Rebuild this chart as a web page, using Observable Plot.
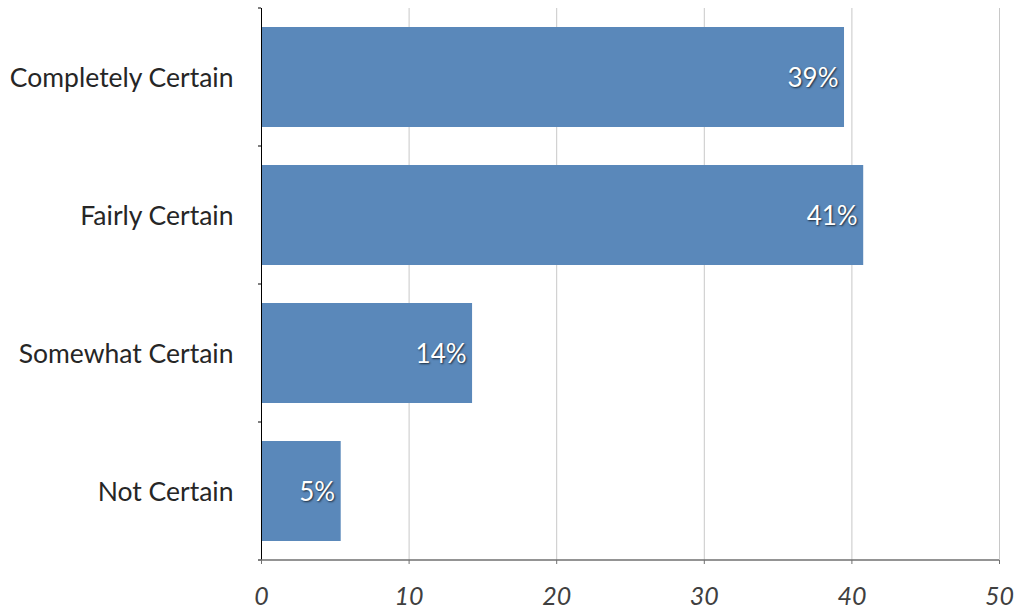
<!DOCTYPE html>
<html>
<head>
<meta charset="utf-8">
<script src="https://cdn.jsdelivr.net/npm/d3@7"></script>
<script src="https://cdn.jsdelivr.net/npm/@observablehq/plot@0.6"></script>
<style>
  html, body { margin: 0; padding: 0; background: #fff; }
  #chart svg { display: block; }
  g[aria-label="text"] text { text-shadow: 1px 1.5px 2px rgba(0,0,0,0.7); }
</style>
</head>
<body>
<div id="chart"></div>
<script>
const categories = ["Completely Certain", "Fairly Certain", "Somewhat Certain", "Not Certain"];
const values = [39.5, 40.8, 14.3, 5.4];
const labels = ["39%", "41%", "14%", "5%"];
const xTicks = [0, 10, 20, 30, 40, 50];

const data = categories.map((c, i) => ({cat: c, value: values[i], label: labels[i]}));

const W = 1017, H = 611;
const plot = Plot.plot({
  width: W,
  height: H,
  marginLeft: 261,
  marginRight: 18,
  marginTop: 8,
  marginBottom: 51,
  style: {fontFamily: "Lato, sans-serif", background: "#fff"},
  x: {domain: [0, 50]},
  y: {domain: categories, paddingInner: 0.275, paddingOuter: 0.1375},
  marks: [
    Plot.gridX(xTicks, {stroke: "#c8c8c8", strokeOpacity: 1, strokeWidth: 1}),
    Plot.barX(data, {x: "value", y: "cat", fill: "#5a88ba"}),
    Plot.text(data, {x: "value", y: "cat", text: "label", textAnchor: "end", dx: -6, dy: 1, fill: "white", fontSize: 26}),
    Plot.ruleX([0], {stroke: "#000", strokeWidth: 1}),
    Plot.axisY({tickSize: 0, tickPadding: 28, fontSize: 26.5, fill: "#262626", label: null, dy: 1}),
    Plot.axisX(xTicks, {tickSize: 4, tickPadding: 23, fontSize: 25, fontStyle: "italic", fill: "#404040", stroke: "#707070", label: null})
  ]
});

document.getElementById("chart").appendChild(plot);

// axis baseline and category boundary ticks, from the plot's own scales
const sx = plot.scale("x"), sy = plot.scale("y");
const svg = d3.select(plot);
const x0 = sx.apply(0), x1 = sx.apply(50);
const yBottom = sy.range[1];
svg.append("line").attr("x1", x0).attr("x2", x1).attr("y1", yBottom).attr("y2", yBottom)
  .attr("stroke", "#707070").attr("stroke-width", 1.5);
const bounds = categories.map(c => sy.apply(c) - (sy.step - sy.bandwidth) / 2);
bounds.push(yBottom);
svg.selectAll(".cb").data(bounds).enter().append("line")
  .attr("x1", x0 - 3).attr("x2", x0).attr("y1", d => d).attr("y2", d => d)
  .attr("stroke", "#000").attr("stroke-width", 1);
</script>
</body>
</html>
